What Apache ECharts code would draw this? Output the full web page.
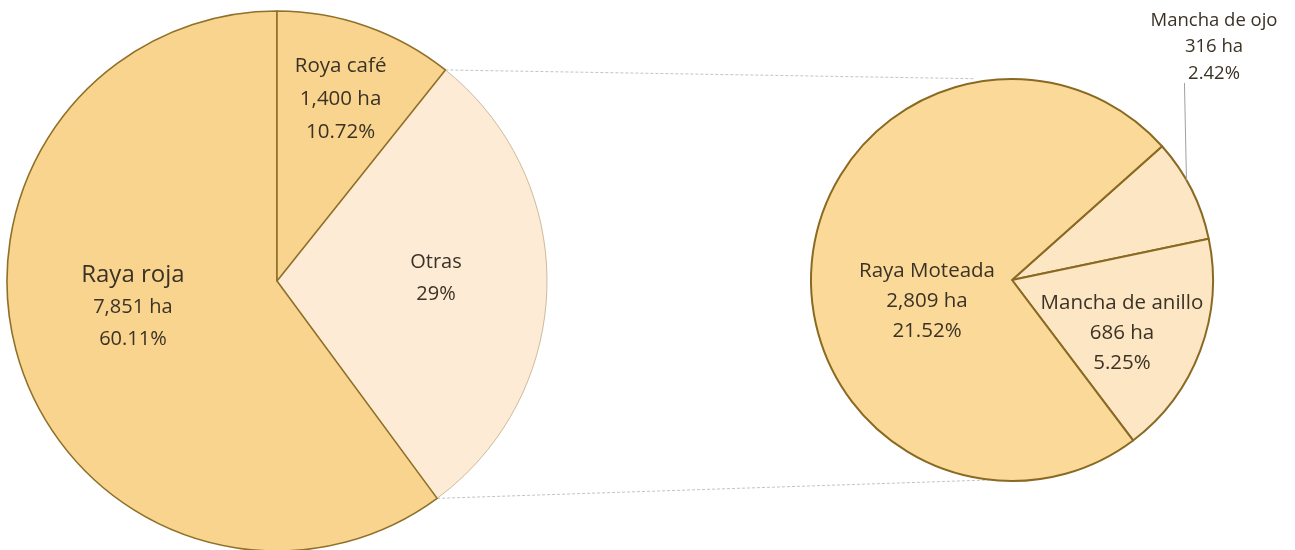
<!DOCTYPE html>
<html>
<head>
<meta charset="utf-8">
<script src="https://cdn.jsdelivr.net/npm/echarts@6/dist/echarts.min.js"></script>
<style>
html,body{margin:0;padding:0;background:#fff;}
#c{width:1295px;height:550px;}
</style>
</head>
<body>
<div id="c"></div>
<script>
// ---- data ----
const mainNames = ['Otras', 'Raya roja', 'Roya café'];
const mainHa = [3811, 7851, 1400];
const mainPct = ['29%', '60.11%', '10.72%'];

const subNames = ['Mancha de ojo', 'Mancha de anillo', 'Raya Moteada'];
const subHa = [316, 686, 2809];
const subPct = ['2.42%', '5.25%', '21.52%'];

// ---- styles ----
const TXT = '#3b3226';
const FONT = '"Open Sans", sans-serif';
const mainColors = ['#fdebd6', '#f9d48e', '#f9d48e'];
const mainBorders = ['#cdbb9c', '#8f7028', '#8f7028'];
const subColors = ['#fde6c3', '#fde6c3', '#fbda99'];
const L = {cx: 277, cy: 281, r: 270};
const R = {cx: 1012, cy: 280, r: 201};

const totalMain = mainHa.reduce((a, b) => a + b, 0);
const totalSub = subHa.reduce((a, b) => a + b, 0);
const mainStart = 90 - 360 * mainHa[2] / totalMain;
const otrasEnd = mainStart - 360 * mainHa[0] / totalMain;
const subStart = 41.7;
const ojoMid = subStart - 180 * subHa[0] / totalSub;

function fmt(n) { return n.toLocaleString('en-US'); }

const mainData = mainNames.map((n, i) => ({
  name: n, value: mainHa[i],
  itemStyle: {color: mainColors[i], borderColor: mainBorders[i], borderWidth: i === 0 ? 1 : 1.6},
  label: {
    formatter: i === 0 ? `{b|${n}}\n{b|${mainPct[i]}}`
      : (i === 1 ? `{a|${n}}\n{b|${fmt(mainHa[i])} ha}\n{b|${mainPct[i]}}`
                 : `{r|${n}}\n{r|${fmt(mainHa[i])} ha}\n{r|${mainPct[i]}}`)
  }
}));
const mainOffsets = [[21, -5], [-13, -17], [18, -52]];

const subData = subNames.map((n, i) => ({
  name: n, value: subHa[i],
  itemStyle: {color: subColors[i], borderColor: '#8a6a22', borderWidth: 2},
  label: i === 0 ? {
    position: 'outside',
    formatter: `{s|${n}}\n{s|${fmt(subHa[i])} ha}\n{s|${subPct[i]}}`
  } : {
    position: 'inside',
    formatter: `{c|${n}}\n{c|${fmt(subHa[i])} ha}\n{c|${subPct[i]}}`
  }
}));
const subOffsets = [[0, 0], [13, 17], [18, 31]];

function pt(c, deg, rr) {
  const a = deg * Math.PI / 180;
  const r = rr === undefined ? c.r : rr;
  return [c.cx + r * Math.cos(a), c.cy - r * Math.sin(a)];
}
const p1 = pt(L, mainStart), p2 = pt(L, otrasEnd);
const q1 = pt(R, 101), q2 = pt(R, -96);
const lead = pt(R, ojoMid + 3);

const chart = echarts.init(document.getElementById('c'), null, {renderer: 'canvas'});
chart.setOption({
  backgroundColor: '#ffffff',
  animation: false,
  graphic: [
    {type: 'line', shape: {x1: p1[0], y1: p1[1], x2: q1[0], y2: q1[1] - 4},
     style: {stroke: '#c4c4c4', lineWidth: 1, lineDash: [3, 2]}, z: 0},
    {type: 'line', shape: {x1: p2[0], y1: p2[1], x2: q2[0], y2: q2[1]},
     style: {stroke: '#c4c4c4', lineWidth: 1, lineDash: [3, 2]}, z: 0},
    {type: 'line', shape: {x1: lead[0], y1: lead[1], x2: lead[0] - 2, y2: 83},
     style: {stroke: '#a0a0a0', lineWidth: 1}, z: 10}
  ],
  series: [
    {
      type: 'pie',
      center: [L.cx, L.cy],
      radius: [0, L.r],
      startAngle: mainStart,
      clockwise: true,
      avoidLabelOverlap: false,
      silent: true,
      label: {
        show: true, position: 'inside', color: TXT, fontFamily: FONT,
        rich: {
          a: {fontSize: 24, lineHeight: 32, color: TXT, fontFamily: FONT, align: 'center'},
          b: {fontSize: 20, lineHeight: 32, color: TXT, fontFamily: FONT, align: 'center'},
          r: {fontSize: 20.5, lineHeight: 33, color: TXT, fontFamily: FONT, align: 'center'}
        }
      },
      labelLine: {show: false},
      labelLayout: function (p) {
        const o = mainOffsets[p.dataIndex];
        return {dx: o[0], dy: o[1]};
      },
      data: mainData
    },
    {
      type: 'pie',
      center: [R.cx, R.cy],
      radius: [0, R.r],
      startAngle: subStart,
      clockwise: true,
      avoidLabelOverlap: false,
      silent: true,
      label: {
        show: true, color: TXT, fontFamily: FONT,
        rich: {
          c: {fontSize: 20.5, lineHeight: 30, color: TXT, fontFamily: FONT, align: 'center'},
          s: {fontSize: 18.5, lineHeight: 26.5, color: TXT, fontFamily: FONT, align: 'center'}
        }
      },
      labelLine: {show: false},
      labelLayout: function (p) {
        if (p.dataIndex === 0) {
          return {x: 1214, y: 47, align: 'center', verticalAlign: 'middle'};
        }
        const o = subOffsets[p.dataIndex];
        return {dx: o[0], dy: o[1]};
      },
      data: subData
    }
  ]
});
</script>
</body>
</html>
